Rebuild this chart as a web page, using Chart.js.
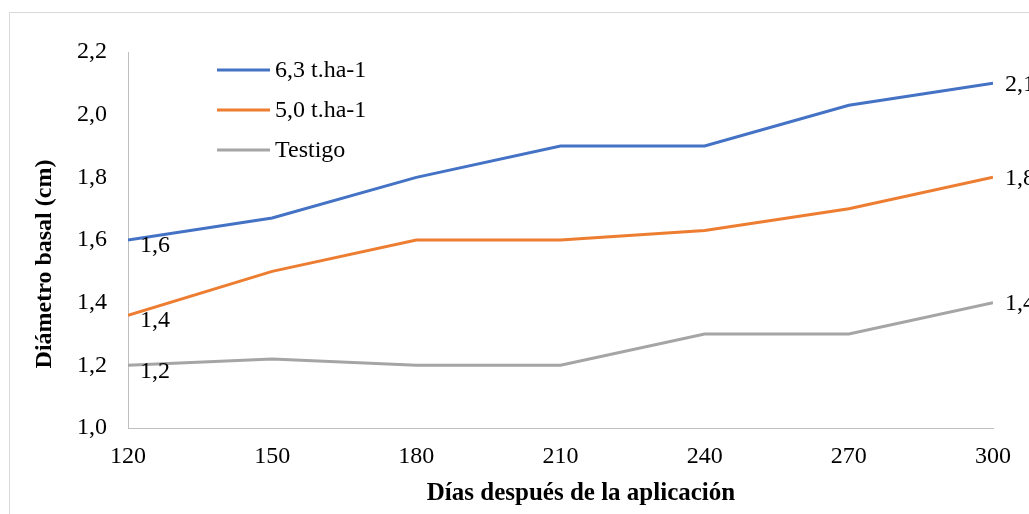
<!DOCTYPE html>
<html>
<head>
<meta charset="utf-8">
<script src="https://cdn.jsdelivr.net/npm/chart.js@4.4.1/dist/chart.umd.min.js"></script>
<style>
  html, body { margin: 0; padding: 0; background: #fff; }
  #wrap { width: 1029px; height: 514px; }
</style>
</head>
<body>
<div id="wrap"><canvas id="diametro"></canvas></div>
<script>
const FONT = "'Liberation Serif', 'Times New Roman', serif"

// data
const dias = [120, 150, 180, 210, 240, 270, 300]
const serie63 = [1.6, 1.67, 1.8, 1.9, 1.9, 2.03, 2.1]
const serie50 = [1.36, 1.5, 1.6, 1.6, 1.63, 1.7, 1.8]
const testigo = [1.2, 1.22, 1.2, 1.2, 1.3, 1.3, 1.4]
const yTicks = [1.0, 1.2, 1.4, 1.6, 1.8, 2.0, 2.2]

const toPoints = vals => vals.map((v, i) => ({ x: dias[i], y: v }))
const coma = v => v.toFixed(1).replace('.', ',')

const makeSet = (label, vals, color) => ({
  label: label,
  data: toPoints(vals),
  borderColor: color,
  backgroundColor: color,
  borderWidth: 3,
  pointRadius: 0,
  pointHoverRadius: 0,
  tension: 0,
})

// frame, axis titles, legend and end labels
const extras = {
  id: 'extras',
  beforeDraw: chart => {
    const ctx = chart.ctx
    ctx.save()
    ctx.strokeStyle = '#d9d9d9'
    ctx.lineWidth = 1
    ctx.beginPath()
    ctx.moveTo(9.5, 514)
    ctx.lineTo(9.5, 12.5)
    ctx.lineTo(1029, 12.5)
    ctx.stroke()
    ctx.restore()
  },
  afterDatasetsDraw: chart => {
    const ctx = chart.ctx
    ctx.save()
    ctx.fillStyle = '#000'
    ctx.font = '24px ' + FONT
    ctx.textBaseline = 'middle'
    ctx.textAlign = 'left'

    // first and last value labels
    chart.data.datasets.forEach((ds, i) => {
      const meta = chart.getDatasetMeta(i)
      const first = meta.data[0]
      const last = meta.data[meta.data.length - 1]
      ctx.fillText(coma(ds.data[0].y), first.x + 12, first.y + 6)
      ctx.fillText(coma(ds.data[ds.data.length - 1].y), last.x + 12, last.y + 1)
    })

    // legend inside plot
    chart.data.datasets.forEach((ds, i) => {
      const y = 70 + i * 40
      ctx.strokeStyle = ds.borderColor
      ctx.lineWidth = 3
      ctx.beginPath()
      ctx.moveTo(217, y)
      ctx.lineTo(270, y)
      ctx.stroke()
      ctx.fillText(ds.label, 275, y + 1)
    })

    // axis titles
    ctx.textAlign = 'center'
    ctx.font = 'bold 25px ' + FONT
    ctx.fillText('Días después de la aplicación', 581, 494)
    ctx.font = 'bold 24px ' + FONT
    ctx.translate(45, 264)
    ctx.rotate(-Math.PI / 2)
    ctx.fillText('Diámetro basal (cm)', 0, 0)
    ctx.restore()
  },
}

const ctxDiametro = document.getElementById('diametro').getContext('2d')

const configDiametro = {
  type: 'line',
  data: {
    datasets: [
      makeSet('6,3 t.ha-1', serie63, '#4472C4'),
      makeSet('5,0 t.ha-1', serie50, '#ED7D31'),
      makeSet('Testigo', testigo, '#A5A5A5'),
    ],
  },
  options: {
    responsive: true,
    maintainAspectRatio: false,
    animation: false,
    layout: { padding: { top: 52, right: 36, left: 0, bottom: 0 } },
    plugins: {
      legend: { display: false },
      tooltip: { enabled: false },
    },
    scales: {
      x: {
        type: 'linear',
        min: 120,
        max: 300,
        grid: { display: false, drawTicks: false },
        border: { display: true, color: '#bfbfbf', width: 1 },
        ticks: {
          stepSize: 30,
          padding: 14,
          color: '#000',
          font: { family: FONT, size: 24 },
        },
        afterFit: scale => { scale.height = 86 },
      },
      y: {
        min: 1.0,
        max: 2.2,
        grid: { display: false, drawTicks: false },
        border: { display: true, color: '#bfbfbf', width: 1 },
        afterBuildTicks: scale => {
          scale.ticks = yTicks.map(v => ({ value: v }))
        },
        ticks: {
          padding: 21,
          color: '#000',
          font: { family: FONT, size: 24 },
          callback: value => coma(value),
        },
        afterFit: scale => { scale.width = 128 },
      },
    },
  },
  plugins: [extras],
}

const diametroChart = new Chart(ctxDiametro, configDiametro)
</script>
</body>
</html>
